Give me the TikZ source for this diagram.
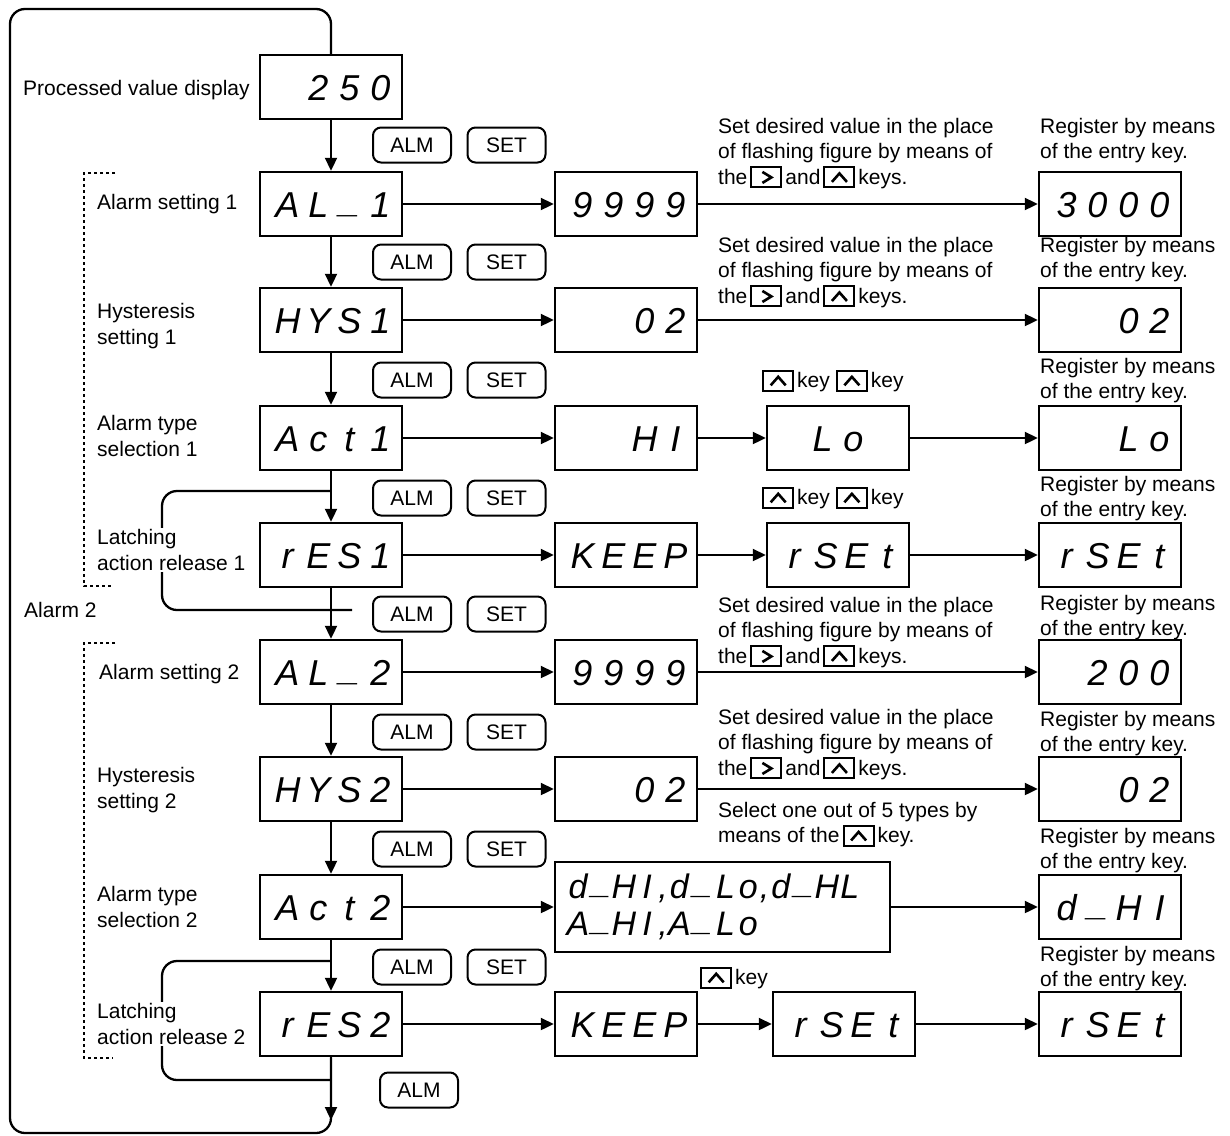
\documentclass[tikz,border=0pt]{standalone}
\usepackage{fontspec}
\setmainfont{Liberation Sans}
\usetikzlibrary{arrows.meta}
\newcommand{\us}{\raisebox{5pt}{\_}}
\makeatletter
\newcommand{\segs}[2][31pt]{\def\seg@w{#1}\seg@loop#2\relax}
\def\seg@loop#1{\ifx#1\relax\else\makebox[\seg@w]{#1}\expandafter\seg@loop\fi}
\makeatother
\newcommand{\kr}{\tikz[baseline=3pt,x=1pt,y=1pt]{\draw[line width=2pt] (0,0) rectangle (30,20); \draw[line width=2.6pt] (11,4.5) -- (20,10) -- (11,15.5);}}
\newcommand{\ku}{\tikz[baseline=3pt,x=1pt,y=1pt]{\draw[line width=2pt] (0,0) rectangle (30,20); \draw[line width=2.6pt] (7.5,5.5) -- (15,14) -- (22.5,5.5);}}
\newcommand{\dispfont}{\fontsize{36}{40}\selectfont\itshape}
\newcommand{\txtfont}{\fontsize{21}{25.5}\selectfont}
\begin{document}
\begin{tikzpicture}[x=1pt,y=-1pt,
  dispbase/.style={draw, line width=2.5pt, inner sep=0pt, font=\dispfont},
  disp/.style={dispbase, minimum width=142pt, minimum height=64pt, text width=130pt, align=right, text height=26pt, text depth=0pt},
  keybtn/.style={draw, line width=2pt, rounded corners=8pt, minimum width=78pt, minimum height=35pt, inner sep=0pt, font=\txtfont},
  arr/.style={-{Triangle[length=13pt,width=12pt]}, line width=2.3pt},
  wire/.style={line width=2.3pt},
  dotb/.style={line width=2.5pt, dash pattern=on 3pt off 3pt},
  note/.style={anchor=north west, align=left, inner sep=0pt, font=\txtfont},
  lbl/.style={anchor=west, align=left, inner sep=0pt, font=\txtfont},
  lblw/.style={anchor=west, align=left, inner sep=2pt, fill=white, font=\txtfont}]
\useasboundingbox (0,0) rectangle (1230,1135);

% column 1
\node[disp] (c0) at (331,87) {\segs{250}};
\node[disp] (c1) at (331,204) {\segs{AL\us 1}};
\node[disp] (c2) at (331,320) {\segs{HYS1}};
\node[disp] (c3) at (331,438) {\segs{Act1}};
\node[disp] (c4) at (331,555) {\segs{rES1}};
\node[disp] (c5) at (331,672) {\segs{AL\us 2}};
\node[disp] (c6) at (331,789) {\segs{HYS2}};
\node[disp] (c7) at (331,907) {\segs{Act2}};
\node[disp] (c8) at (331,1024) {\segs{rES2}};

% column 2
\node[disp] (d1) at (626,204) {\segs{9999}};
\node[disp] (d2) at (626,320) {\segs{02}};
\node[disp] (d3) at (626,438) {\segs{HI}};
\node[disp] (d4) at (626,555) {\segs{KEEP}};
\node[disp] (d5) at (626,672) {\segs{9999}};
\node[disp] (d6) at (626,789) {\segs{02}};
\node[dispbase, minimum width=335pt, minimum height=90pt, text width=312pt, align=left, font=\fontsize{34}{37}\selectfont\itshape] (d7) at (722.5,907)
  {\segs[23pt]{d\us HI},\segs[23pt]{d\us Lo},\segs[23pt]{d\us HL}\\\segs[23pt]{A\us HI},\segs[23pt]{A\us Lo}};
\node[disp] (d8) at (626,1024) {\segs{KEEP}};

% column 3
\node[disp, align=center] (e3) at (838,438) {\segs{Lo}};
\node[disp] (e4) at (838,555) {\segs{rSEt}};
\node[disp] (e8) at (844,1024) {\segs{rSEt}};

% column 4
\node[disp] (f1) at (1110,204) {\segs{3000}};
\node[disp] (f2) at (1110,320) {\segs{02}};
\node[disp] (f3) at (1110,438) {\segs{Lo}};
\node[disp] (f4) at (1110,555) {\segs{rSEt}};
\node[disp] (f5) at (1110,672) {\segs{200}};
\node[disp] (f6) at (1110,789) {\segs{02}};
\node[disp] (f7) at (1110,907) {\segs{d\us HI}};
\node[disp] (f8) at (1110,1024) {\segs{rSEt}};

% keys
\node[keybtn] (a1) at (412,145) {ALM}; \node[keybtn] (s1) at (506.5,145) {SET};
\node[keybtn] (a2) at (412,262) {ALM}; \node[keybtn] (s2) at (506.5,262) {SET};
\node[keybtn] (a3) at (412,380) {ALM}; \node[keybtn] (s3) at (506.5,380) {SET};
\node[keybtn] (a4) at (412,498) {ALM}; \node[keybtn] (s4) at (506.5,498) {SET};
\node[keybtn] (a5) at (412,614) {ALM}; \node[keybtn] (s5) at (506.5,614) {SET};
\node[keybtn] (a6) at (412,732) {ALM}; \node[keybtn] (s6) at (506.5,732) {SET};
\node[keybtn] (a7) at (412,849) {ALM}; \node[keybtn] (s7) at (506.5,849) {SET};
\node[keybtn] (a8) at (412,967) {ALM}; \node[keybtn] (s8) at (506.5,967) {SET};
\node[keybtn] (a9) at (419,1090) {ALM};

% outer return loop
\coordinate (lb) at (10,1133);
\coordinate (lt) at (331,9);
\coordinate (loopend) at (331,1120);
\draw[wire, rounded corners=15pt] (c8.south) |- (lb) |- (lt) -- (c0.north);
\draw[arr] (c8.south) -- (loopend);

% latching loops
\coordinate (p1a) at (331,491); \coordinate (p1b) at (352,610); \coordinate (p1c) at (162,491);
\draw[wire, rounded corners=15pt] (p1b) -| (p1c) -- (p1a);
\coordinate (p2a) at (331,961); \coordinate (p2b) at (331,1080); \coordinate (p2c) at (162,961);
\draw[wire, rounded corners=15pt] (p2b) -| (p2c) -- (p2a);

% vertical arrows
\draw[arr] (c0) -- (c1);
\draw[arr] (c1) -- (c2);
\draw[arr] (c2) -- (c3);
\draw[arr] (c3) -- (c4);
\draw[arr] (c4) -- (c5);
\draw[arr] (c5) -- (c6);
\draw[arr] (c6) -- (c7);
\draw[arr] (c7) -- (c8);

% horizontal arrows
\draw[arr] (c1) -- (d1); \draw[arr] (d1) -- (f1);
\draw[arr] (c2) -- (d2); \draw[arr] (d2) -- (f2);
\draw[arr] (c3) -- (d3); \draw[arr] (d3) -- (e3); \draw[arr] (e3) -- (f3);
\draw[arr] (c4) -- (d4); \draw[arr] (d4) -- (e4); \draw[arr] (e4) -- (f4);
\draw[arr] (c5) -- (d5); \draw[arr] (d5) -- (f5);
\draw[arr] (c6) -- (d6); \draw[arr] (d6) -- (f6);
\draw[arr] (c7) -- (d7); \draw[arr] (d7) -- (f7);
\draw[arr] (c8) -- (d8); \draw[arr] (d8) -- (e8); \draw[arr] (e8) -- (f8);

% dotted brackets
\draw[dotb] (115,173) -| (84,586) -- (113,586);
\draw[dotb] (115,643) -| (84,1058) -- (113,1058);

% left labels
\node[lbl] (t0) at (23,90) {Processed value display};
\node[lbl] (t1) at (97,204) {Alarm setting 1};
\node[lbl] (t2) at (97,326) {Hysteresis\\setting 1};
\node[lbl] (t3) at (97,436) {Alarm type\\selection 1};
\node[lblw] (t4) at (95,550) {Latching\\action release 1};
\node[lbl] (t5) at (24,610) {Alarm 2};
\node[lbl] (t6) at (99,674) {Alarm setting 2};
\node[lbl] (t7) at (97,790) {Hysteresis\\setting 2};
\node[lbl] (t8) at (97,907) {Alarm type\\selection 2};
\node[lblw] (t9) at (95,1024) {Latching\\action release 2};

% notes
\node[note] (n1) at (718,118) {Set desired value in the place\\of flashing figure by means of\\the\hspace{3pt}\kr\hspace{3pt}and\hspace{3pt}\ku\hspace{3pt}keys.};
\node[note] (r1) at (1040,118) {Register by means\\of the entry key.};
\node[note] (n2) at (718,237) {Set desired value in the place\\of flashing figure by means of\\the\hspace{3pt}\kr\hspace{3pt}and\hspace{3pt}\ku\hspace{3pt}keys.};
\node[note] (r2) at (1040,237) {Register by means\\of the entry key.};
\node[lbl] (n3) at (762,381) {\ku\hspace{3pt}key\hspace{6pt}\ku\hspace{3pt}key};
\node[note] (r3) at (1040,358) {Register by means\\of the entry key.};
\node[lbl] (n4) at (762,498) {\ku\hspace{3pt}key\hspace{6pt}\ku\hspace{3pt}key};
\node[note] (r4) at (1040,476) {Register by means\\of the entry key.};
\node[note] (n5) at (718,597) {Set desired value in the place\\of flashing figure by means of\\the\hspace{3pt}\kr\hspace{3pt}and\hspace{3pt}\ku\hspace{3pt}keys.};
\node[note] (r5) at (1040,595) {Register by means\\of the entry key.};
\node[note] (n6) at (718,709) {Set desired value in the place\\of flashing figure by means of\\the\hspace{3pt}\kr\hspace{3pt}and\hspace{3pt}\ku\hspace{3pt}keys.};
\node[note] (r6) at (1040,711) {Register by means\\of the entry key.};
\node[note] (n7) at (718,802) {Select one out of 5 types by\\means of the\hspace{3pt}\ku\hspace{3pt}key.};
\node[note] (r7) at (1040,828) {Register by means\\of the entry key.};
\node[lbl] (n8) at (700,978) {\ku\hspace{3pt}key};
\node[note] (r8) at (1040,946) {Register by means\\of the entry key.};
\end{tikzpicture}
\end{document}
